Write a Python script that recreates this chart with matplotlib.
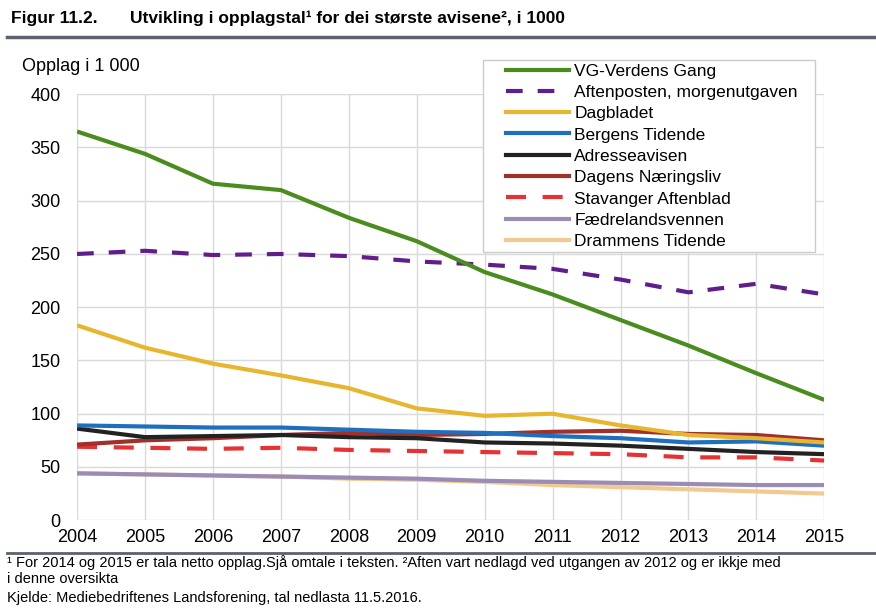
import matplotlib
matplotlib.use('Agg')
import matplotlib.pyplot as plt
from matplotlib.lines import Line2D
from matplotlib.patches import Rectangle

plt.rcParams['font.family'] = ['Liberation Sans', 'DejaVu Sans']

years = list(range(2004, 2016))
vg = [365, 344, 316, 310, 284, 262, 233, 212, 188, 164, 138, 113]
aftenposten = [250, 253, 249, 250, 248, 243, 240, 236, 226, 214, 222, 212]
dagbladet = [183, 162, 147, 136, 124, 105, 98, 100, 89, 80, 77, 73]
bergens = [89, 88, 87, 87, 85, 83, 82, 79, 77, 73, 74, 70]
adresse = [86, 78, 79, 80, 78, 77, 73, 72, 70, 67, 64, 62]
dn = [71, 75, 77, 80, 82, 80, 81, 83, 84, 81, 80, 75]
stavanger = [69, 68, 67, 68, 66, 65, 64, 63, 62, 59, 59, 56]
faedre = [44, 43, 42, 41, 40, 39, 37, 36, 35, 34, 33, 33]
drammen = [44, 43, 42, 41, 39, 38, 36, 33, 31, 29, 27, 25]

series = [
    ('VG-Verdens Gang', vg, '#4a8c1e', '-'),
    ('Aftenposten, morgenutgaven', aftenposten, '#5f1e8c', (0, (4, 3.6))),
    ('Dagbladet', dagbladet, '#e8b52e', '-'),
    ('Bergens Tidende', bergens, '#1f6fbf', '-'),
    ('Adresseavisen', adresse, '#222222', '-'),
    ('Dagens Næringsliv', dn, '#a0302b', '-'),
    ('Stavanger Aftenblad', stavanger, '#e63232', (0, (4.8, 4))),
    ('Fædrelandsvennen', faedre, '#9b8cb5', '-'),
    ('Drammens Tidende', drammen, '#f2c98e', '-'),
]

W, H = 876, 612
fig = plt.figure(figsize=(8.76, 6.12), dpi=100)
ax = fig.add_axes([0.088, 0.150, 0.853, 0.696])

# draw bottom-most first so the overlaps look like the original
for name, vals, col, ls in reversed(series):
    ax.plot(years, vals, color=col, lw=3, ls=ls, label=name, solid_capstyle='butt')

ax.set_xlim(2004, 2015)
ax.set_ylim(0, 400)
ax.set_xticks(years)
ax.set_yticks(range(0, 401, 50))
ax.grid(True, color='#d9d9d9', lw=1)
ax.set_axisbelow(True)
for s in ax.spines.values():
    s.set_visible(False)
ax.tick_params(length=0, labelsize=13, pad=6)
ax.tick_params(axis='y', pad=12)

# legend box (white, grey edge) drawn separately, the legend itself has no frame
fig.add_artist(Rectangle((483 / W, 1 - 252 / H), 332 / W, 192 / H, transform=fig.transFigure,
                         facecolor='white', edgecolor='#cccccc', lw=1, zorder=3))
handles = [Line2D([0], [0], color=c, lw=3, ls=l) for n, v, c, l in series]
labels = [n for n, v, c, l in series]
leg = fig.legend(handles, labels, loc='upper left', bbox_to_anchor=(503 / W, 1 - 60 / H),
                 fontsize=12.5, frameon=False, handlelength=3.6,
                 labelspacing=0.355, borderpad=0.2, handletextpad=0.3, borderaxespad=0)
leg.set_zorder(4)

fig.text(0.025, 0.892, 'Opplag i 1 000', fontsize=13, va='center')

fig.text(0.012, 0.970, 'Figur 11.2.', fontsize=12.5, fontweight='bold', va='center')
fig.text(0.148, 0.970, 'Utvikling i opplagstal¹ for dei største avisene², i 1000',
         fontsize=12.5, fontweight='bold', va='center')
fig.add_artist(Line2D([0.008, 1.0], [0.94, 0.94], color='#5a6270', lw=2.5))
fig.add_artist(Line2D([0.008, 1.0], [0.097, 0.097], color='#5a6270', lw=2))

fig.text(0.008, 0.081, '¹ For 2014 og 2015 er tala netto opplag.Sjå omtale i teksten. '
         '²Aften vart nedlagd ved utgangen av 2012 og er ikkje med', fontsize=10.5, va='center')
fig.text(0.008, 0.054, 'i denne oversikta', fontsize=10.5, va='center')
fig.text(0.008, 0.023, 'Kjelde: Mediebedriftenes Landsforening, tal nedlasta 11.5.2016.', fontsize=10.5, va='center')

fig.savefig('out.png', dpi=100)
